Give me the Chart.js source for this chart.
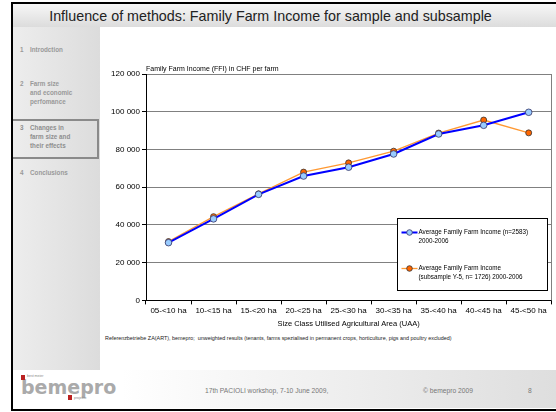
<!DOCTYPE html>
<html>
<head>
<meta charset="utf-8">
<script src="https://cdn.jsdelivr.net/npm/chart.js@4.4.1/dist/chart.umd.min.js"></script>
<style>
  html, body { margin: 0; padding: 0; background: #fff; }
  body { width: 556px; height: 412px; position: relative; overflow: hidden;
         font-family: Arial, "Liberation Sans", sans-serif; }
  .frame { position: absolute; left: 11px; top: 2px; width: 547px; height: 405px;
           border: 2px solid #000; border-right: none; box-sizing: content-box; }
  .titlebar { position: absolute; left: 13px; top: 4px; width: 543px; height: 23px;
              background: linear-gradient(to bottom, #f7f7f7, #dcdcdc); }
  .titlebar div { position: absolute; left: 0; right: 28px; top: 4px; text-align: center;
                  font-size: 14.3px; color: #222; }
  .sidebar { position: absolute; left: 13px; top: 27px; width: 87px; height: 343px;
             background: linear-gradient(to right, #ededed, #dcdcdc); }
  .item { position: absolute; left: 7px; font-size: 6.3px; font-weight: bold; color: #999;
          line-height: 8.8px; }
  .item span { display: inline-block; width: 10px; }
  .box { position: absolute; left: 0; top: 92px; width: 84px; height: 36px;
         border: 2px solid #8a8a8a; border-left: none; }
  .footer { position: absolute; left: 13px; top: 370px; width: 543px; height: 38px;
            background: linear-gradient(to right, #ffffff 20%, #dedede); }
  .ftxt { position: absolute; top: 17px; font-size: 6.7px; color: #777; }
  .logo { position: absolute; left: 8px; top: 6px; font-size: 19px; font-weight: bold;
          color: #aaa; letter-spacing: 0px; font-family: "DejaVu Sans", sans-serif; }
  .note { position: absolute; left: 105px; top: 335px; font-size: 5.4px; color: #222; white-space: nowrap; }
  #wrap { position: absolute; left: 100px; top: 58px; width: 456px; height: 270px; }
</style>
</head>
<body>
<div class="frame"></div>
<div class="titlebar"><div>Influence of methods: Family Farm Income for sample and subsample</div></div>
<div class="sidebar">
  <div class="item" style="top:19px"><span>1</span>Introdction</div>
  <div class="item" style="top:53px"><span>2</span>Farm size<br><span></span>and economic<br><span></span>perfomance</div>
  <div class="box"></div>
  <div class="item" style="top:97px;color:#8e8e8e"><span>3</span>Changes in<br><span></span>farm size and<br><span></span>their effects</div>
  <div class="item" style="top:142px"><span>4</span>Conclusions</div>
</div>
<div class="footer">
  <div class="logo">bemepro</div>
  <div style="position:absolute;left:8px;top:5px;width:4px;height:5px;background:#b22;"></div>
  <div style="position:absolute;left:14px;top:4px;font-size:3.5px;color:#888;">best meier</div>
  <div style="position:absolute;left:55px;top:25px;width:4px;height:5px;background:#b22;"></div>
  <div style="position:absolute;left:61px;top:26px;font-size:3.5px;color:#888;">projekte</div>
  <div class="ftxt" style="left:192px">17th PACIOLI workshop, 7-10 June 2009,</div>
  <div class="ftxt" style="left:410px">© bemepro 2009</div>
  <div class="ftxt" style="left:515px">8</div>
</div>
<div class="note">Referenzbetriebe ZA(ART), bemepro;&nbsp; unweighted results (tenants, farms spezialised in permanent crops, horticulture, pigs and poultry excluded)</div>
<div id="wrap"><canvas id="chart"></canvas></div>

<script>
const sizeClasses = ["05-<10 ha", "10-<15 ha", "15-<20 ha", "20-<25 ha", "25-<30 ha",
                     "30-<35 ha", "35-<40 ha", "40-<45 ha", "45-<50 ha"];
const ffiSample = [30600, 43200, 56200, 65900, 70600, 77600, 88200, 92800, 99700];
const ffiSubsample = [31200, 44400, 56500, 68000, 72900, 79100, 88700, 95600, 88800];
const yTicks = [0, 20000, 40000, 60000, 80000, 100000, 120000];

const sampleLabel = ["Average Family Farm Income (n=2583)", "2000-2006"];
const subsampleLabel = ["Average Family Farm Income", "(subsample Y-5, n= 1726) 2000-2006"];

const FONT = "Arial, 'Liberation Sans', sans-serif";

// y axis caption, plot frame and the boxed legend
const extras = {
  id: "extras",
  afterDraw(chart) {
    const ctx = chart.ctx;
    const a = chart.chartArea;
    ctx.save();
    ctx.strokeStyle = "#808080";
    ctx.lineWidth = 1;
    ctx.beginPath();
    ctx.moveTo(Math.round(a.right) + 0.5, a.top);
    ctx.lineTo(Math.round(a.right) + 0.5, a.bottom);
    ctx.stroke();

    ctx.fillStyle = "#000";
    ctx.font = "7px " + FONT;
    ctx.textBaseline = "bottom";
    ctx.fillText("Family Farm Income (FFI) in CHF per farm", a.left, a.top - 1);

    const bx = Math.round(a.right) - 153.5, by = Math.round(a.top) + 144.5, bw = 150, bh = 72;
    ctx.fillStyle = "#fff";
    ctx.fillRect(bx, by, bw, bh);
    ctx.strokeStyle = "#000";
    ctx.strokeRect(bx, by, bw, bh);

    const entries = [
      { ds: chart.data.datasets[0], text: sampleLabel, y: by + 14 },
      { ds: chart.data.datasets[1], text: subsampleLabel, y: by + 50 }
    ];
    entries.forEach((e) => {
      ctx.strokeStyle = e.ds.borderColor;
      ctx.lineWidth = e.ds.borderWidth;
      ctx.beginPath();
      ctx.moveTo(bx + 4, e.y);
      ctx.lineTo(bx + 20, e.y);
      ctx.stroke();
      ctx.beginPath();
      ctx.arc(bx + 12, e.y, 2.8, 0, Math.PI * 2);
      ctx.fillStyle = e.ds.pointBackgroundColor;
      ctx.fill();
      ctx.lineWidth = 0.8;
      ctx.strokeStyle = e.ds.pointBorderColor;
      ctx.stroke();
      ctx.fillStyle = "#000";
      ctx.font = "6.3px " + FONT;
      ctx.textBaseline = "middle";
      ctx.fillText(e.text[0], bx + 21, e.y);
      ctx.fillText(e.text[1], bx + 21, e.y + 9);
    });
    ctx.restore();
  }
};

new Chart(document.getElementById("chart"), {
  type: "line",
  data: {
    labels: sizeClasses,
    datasets: [
      {
        label: sampleLabel.join(" "),
        data: ffiSample,
        borderColor: "#0000ff",
        borderWidth: 2,
        pointRadius: 3.3,
        pointBackgroundColor: "#99ccff",
        pointBorderColor: "#333366",
        pointBorderWidth: 0.8,
        tension: 0
      },
      {
        label: subsampleLabel.join(" "),
        data: ffiSubsample,
        borderColor: "#ff9933",
        borderWidth: 1.3,
        pointRadius: 3,
        pointBackgroundColor: "#ff6600",
        pointBorderColor: "#333333",
        pointBorderWidth: 0.8,
        tension: 0
      }
    ]
  },
  options: {
    responsive: true,
    maintainAspectRatio: false,
    animation: false,
    layout: { padding: { top: 16, right: 4, left: 0, bottom: 0 } },
    plugins: {
      legend: { display: false },
      tooltip: { enabled: false }
    },
    scales: {
      x: {
        offset: true,
        grid: {
          offset: true,
          drawOnChartArea: false,
          tickLength: 4,
          tickColor: "#000"
        },
        border: { color: "#000", width: 1 },
        ticks: { color: "#000", font: { size: 8, family: FONT }, padding: 2, maxRotation: 0 },
        title: {
          display: true,
          text: "Size Class Utilised Agricultural Area (UAA)",
          color: "#000",
          font: { size: 7.5, family: FONT },
          padding: { top: 1, bottom: 0 }
        }
      },
      y: {
        min: 0,
        max: 120000,
        afterBuildTicks(axis) {
          axis.ticks = yTicks.map((v) => ({ value: v }));
        },
        afterFit(axis) {
          axis.width = 46;
        },
        grid: { color: "#808080", tickLength: 4, tickColor: "#000" },
        border: { color: "#000", width: 1 },
        ticks: {
          color: "#000",
          font: { size: 8, family: FONT },
          padding: 2,
          callback: (v) => String(v).replace(/\B(?=(\d{3})+(?!\d))/g, " ")
        }
      }
    }
  },
  plugins: [extras]
});
</script>
</body>
</html>
